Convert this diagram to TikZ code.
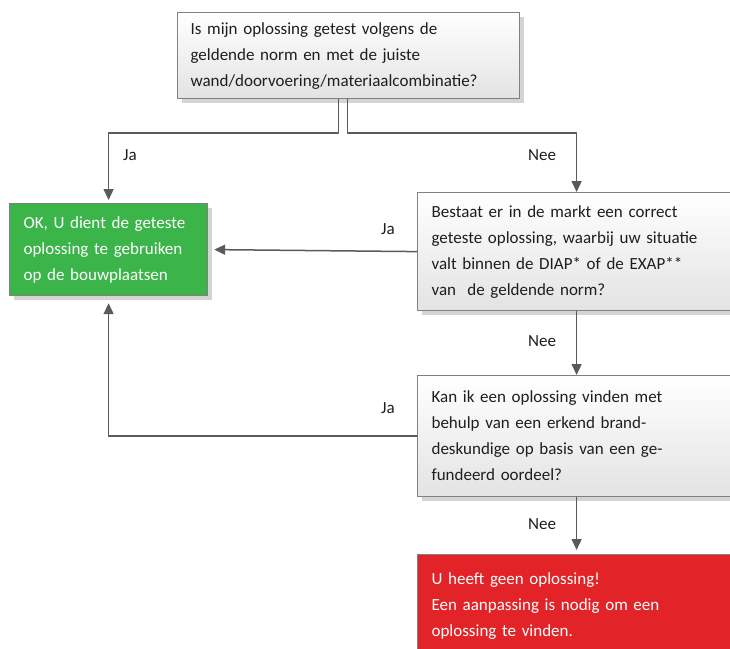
\documentclass[tikz,border=0pt]{standalone}
\usepackage{fontspec}
\setmainfont{Carlito}
\usetikzlibrary{arrows.meta,shadows}
\definecolor{rand}{RGB}{128,128,128}
\definecolor{lijn}{RGB}{90,90,90}
\definecolor{tekst}{RGB}{30,30,30}
\definecolor{okgroen}{RGB}{59,181,74}
\definecolor{nokrood}{RGB}{226,35,39}
\newcommand\ruimwoord{\spaceskip=6.6pt plus 1pt\relax}
\tikzset{
  kader/.style={draw=rand,line width=1.2pt,anchor=north west,align=left,inner xsep=14pt,inner ysep=0pt,
    font=\fontsize{17}{26}\selectfont\ruimwoord,
    drop shadow={shadow xshift=4pt,shadow yshift=-4pt,fill=black!17,opacity=1}},
  vraag/.style={kader,top color=white,bottom color=black!11,text=tekst},
  antwoord/.style={kader,text=white},
  pijl/.style={->,draw=lijn,line width=1.5pt},
  keuze/.style={text=tekst,font=\fontsize{17}{20}\selectfont,inner sep=0pt}
}
\begin{document}
\begin{tikzpicture}[line cap=round,line join=round,>={Triangle[width=10pt,length=11pt]},x=1pt,y=-1pt]
\useasboundingbox (0,0) rectangle (730,648);
\clip (0,0) rectangle (730,648);
\node[vraag,inner xsep=13pt,text width=316pt,minimum height=86pt] (vraag1) at (177,12)
  {Is mijn oplossing getest volgens de\\geldende norm en met de juiste\\wand/doorvoering/materiaalcombinatie?};
\node[antwoord,fill=okgroen,text width=170pt,minimum height=92pt] (ok) at (9,203)
  {OK, U dient de geteste\\oplossing te gebruiken\\op de bouwplaatsen};
\node[vraag,text width=290pt,minimum height=118pt] (vraag2) at (417,192)
  {Bestaat er in de markt een correct\\geteste oplossing, waarbij uw situatie\\valt binnen de DIAP* of de EXAP**\\van~ de geldende norm?};
\node[vraag,text width=290pt,minimum height=121pt] (vraag3) at (417,375)
  {Kan ik een oplossing vinden met\\behulp van een erkend brand-\\deskundige op basis van een ge-\\fundeerd oordeel?};
\node[antwoord,fill=nokrood,text width=290pt,minimum height=102pt] (nok) at (417,554)
  {U heeft geen oplossing!\\Een aanpassing is nodig om een\\oplossing te vinden.};
\draw[pijl] ([xshift=-10pt]vraag1.south) -- ++(0,34) -| ([yshift=3pt]ok.north);
\draw[pijl] ([xshift=-1pt]vraag1.south) -- ++(0,34) -| (vraag2.north);
\draw[pijl] (vraag2.west) -- ([xshift=6pt]ok.east);
\draw[pijl] (vraag3.west) -| ([yshift=-7pt]ok.south);
\draw[pijl] (vraag2.south) -- (vraag3.north);
\draw[pijl] (vraag3.south) -- ([yshift=4pt]nok.north);
\node[keuze] (ja1) at (130,155) {Ja};
\node[keuze] (nee1) at (542,155) {Nee};
\node[keuze] (ja2) at (388,229) {Ja};
\node[keuze] (nee2) at (542,341) {Nee};
\node[keuze] (ja3) at (388,408) {Ja};
\node[keuze] (nee3) at (542,524) {Nee};
\end{tikzpicture}
\end{document}
